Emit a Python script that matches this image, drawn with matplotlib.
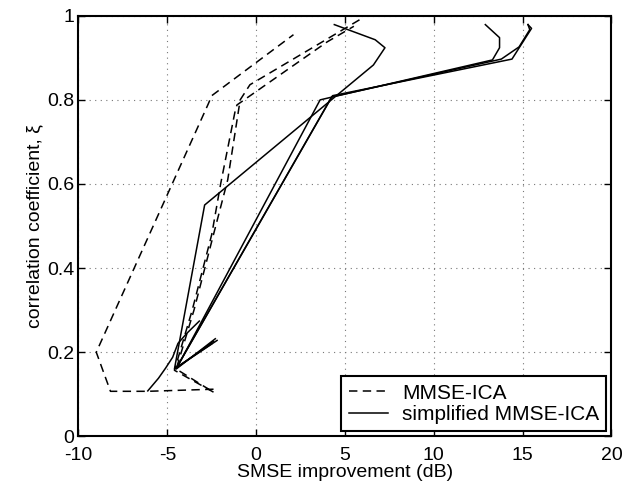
import matplotlib
matplotlib.use("Agg")
import matplotlib.pyplot as plt

plt.rcParams['font.family'] = ['Liberation Sans', 'DejaVu Sans']
plt.rcParams['axes.unicode_minus'] = False

# Dashed curves (MMSE-ICA)
d1_x = [-2.4, -6.1, -8.2, -9.0, -2.7, -2.5, 2.1]
d1_y = [0.112, 0.107, 0.107, 0.2, 0.79, 0.81, 0.955]
d2_x = [-2.4, -4.6, -3.6, -2.5, -2.0, -1.2, -1.08, 4.0, 5.5]
d2_y = [0.105, 0.157, 0.3, 0.48, 0.6, 0.77, 0.788, 0.938, 0.975]
d3_x = [-2.6, -4.5, -3.5, -2.4, -1.6, -0.9, -0.35, 6.0]
d3_y = [0.11, 0.16, 0.3, 0.48, 0.61, 0.8, 0.836, 0.995]

# Solid curves (simplified MMSE-ICA)
s1_x = [-2.2, -4.6, -2.9, 6.6, 7.25, 6.7, 4.4]
s1_y = [0.228, 0.16, 0.55, 0.883, 0.924, 0.943, 0.979]
s2_x = [-2.3, -4.5, 3.6, 4.3, 13.3, 13.7, 13.7, 12.9]
s2_y = [0.232, 0.16, 0.8, 0.807, 0.895, 0.924, 0.948, 0.979]
s3_x = [-2.4, -4.5, 4.25, 13.8, 14.8, 15.4, 15.3]
s3_y = [0.226, 0.162, 0.807, 0.897, 0.926, 0.967, 0.979]
s4_x = [-2.5, -4.45, 4.3, 14.4, 15.5, 15.3]
s4_y = [0.22, 0.165, 0.81, 0.897, 0.97, 0.979]
s5_x = [-6.1, -5.5, -5.1, -4.7, -4.4, -3.9, -3.2]
s5_y = [0.108, 0.138, 0.162, 0.188, 0.221, 0.245, 0.274]

x_ticks = [-10, -5, 0, 5, 10, 15, 20]
y_ticks = [0, 0.2, 0.4, 0.6, 0.8, 1.0]
y_ticklabels = ['0', '0.2', '0.4', '0.6', '0.8', '1']

fig = plt.figure(figsize=(6.23, 4.93), dpi=100)
ax = fig.add_axes([0.126, 0.115, 0.8555, 0.853])

lw = 1.1
dash = (0, (5.5, 3.5))
ax.plot(d1_x, d1_y, color='black', lw=lw, linestyle=dash, label='MMSE-ICA')
for xs, ys in [(d2_x, d2_y), (d3_x, d3_y)]:
    ax.plot(xs, ys, color='black', lw=lw, linestyle=dash)
ax.plot(s1_x, s1_y, color='black', lw=lw, label='simplified MMSE-ICA')
for xs, ys in [(s2_x, s2_y), (s3_x, s3_y), (s4_x, s4_y), (s5_x, s5_y)]:
    ax.plot(xs, ys, color='black', lw=lw)

ax.set_xlim(-10, 20)
ax.set_ylim(0, 1)
ax.set_xticks(x_ticks)
ax.set_yticks(y_ticks)
ax.set_yticklabels(y_ticklabels)
ax.tick_params(direction='in', length=5, width=1, labelsize=14,
               top=True, right=True)
ax.tick_params(axis='x', pad=8)
ax.tick_params(axis='y', pad=3)
ax.grid(True, linestyle=(0, (1, 4)), color='#777777', linewidth=0.8)
for sp in ax.spines.values():
    sp.set_linewidth(1.5)

ax.set_xlabel('SMSE improvement (dB)', fontsize=14, labelpad=0)
ax.set_ylabel('correlation coefficient, ξ', fontsize=14, labelpad=3)

leg = ax.legend(loc='lower right', fontsize=15, frameon=True, fancybox=False,
                edgecolor='black', framealpha=1, handlelength=1.9,
                borderpad=0.35, labelspacing=0.1, handletextpad=0.65,
                borderaxespad=0.25)
leg.get_frame().set_linewidth(1.5)

fig.savefig('out.png', dpi=100)
